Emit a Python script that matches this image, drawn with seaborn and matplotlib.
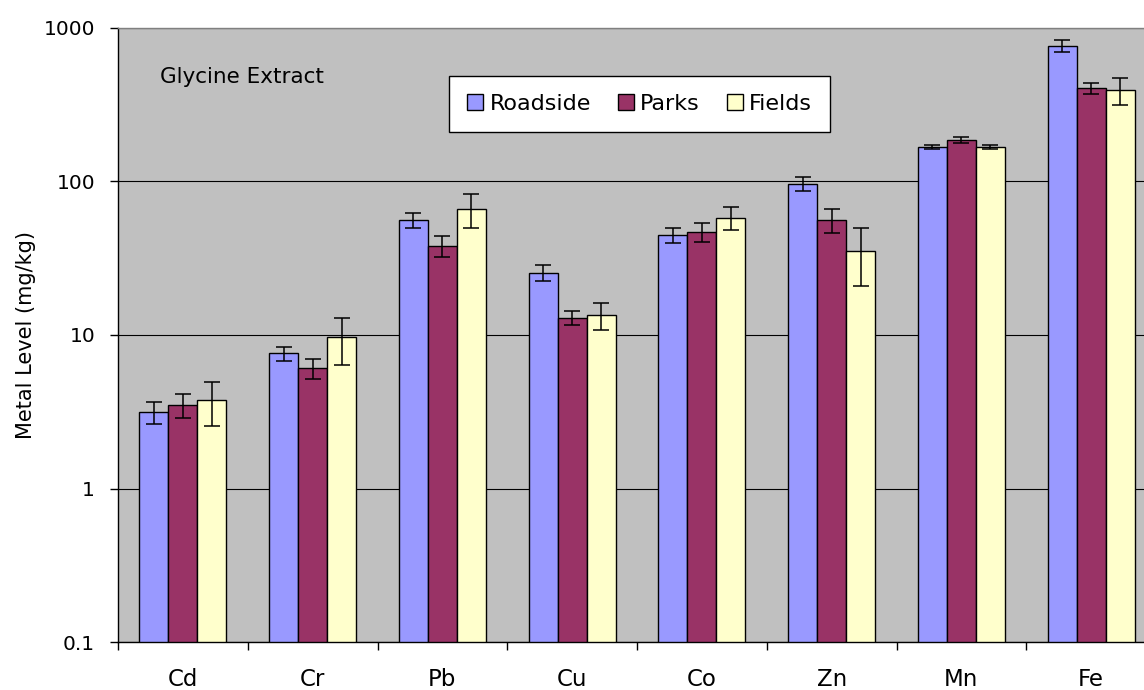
import matplotlib
matplotlib.use("Agg")
import matplotlib.pyplot as plt
from matplotlib.patches import Patch
from matplotlib.ticker import NullLocator
import numpy as np
import pandas as pd
import seaborn as sns

# Metal levels (mg/kg) with standard errors, glycine extract
metals = ["Cd", "Cr", "Pb", "Cu", "Co", "Zn", "Mn", "Fe"]
sites = ["Roadside", "Parks", "Fields"]

roadside = [3.15, 7.6, 56, 25.5, 45, 97, 168, 765]
roadside_err = [0.52, 0.8, 6, 3.0, 5, 10, 6, 65]
parks = [3.5, 6.1, 38, 13, 47, 56, 186, 405]
parks_err = [0.62, 0.9, 6, 1.4, 6.5, 10, 8, 35]
fields = [3.75, 9.7, 66, 13.4, 58, 35.5, 168, 395]
fields_err = [1.2, 3.3, 16.5, 2.7, 10, 14.5, 6, 80]

ytick_values = [0.1, 1, 10, 100, 1000]
ytick_labels = ["0.1", "1", "10", "100", "1000"]

colors = ["#9999FF", "#993366", "#FFFFCC"]

values = {"Roadside": roadside, "Parks": parks, "Fields": fields}
errors = {"Roadside": roadside_err, "Parks": parks_err, "Fields": fields_err}

df = pd.DataFrame(
    [(m, s, values[s][i]) for s in sites for i, m in enumerate(metals)],
    columns=["metal", "site", "level"],
)

fig = plt.figure(figsize=(11.44, 6.90), dpi=100)
fig.patch.set_facecolor("white")
ax = fig.add_axes([118 / 1144, 48 / 690, 1038 / 1144, 614 / 690])
ax.set_facecolor("#C0C0C0")

sns.barplot(
    data=df, x="metal", y="level", hue="site",
    order=metals, hue_order=sites, palette=colors,
    width=0.67, gap=0, errorbar=None, legend=False,
    edgecolor="black", linewidth=1.0, saturation=1.0, ax=ax,
)
ax.set_yscale("log")
ax.set_ylim(0.1, 1000)
ax.set_xlim(-0.5, len(metals) - 0.5)

# Error bars at the centres of the drawn bars
for container, site in zip(ax.containers, sites):
    xs = [p.get_x() + p.get_width() / 2 for p in container.patches]
    ax.errorbar(xs, values[site], yerr=errors[site], fmt="none",
                ecolor="black", elinewidth=1.1, capsize=6, capthick=1.1,
                zorder=5)

# Axes styling
ax.set_yticks(ytick_values)
ax.set_yticklabels(ytick_labels)
ax.yaxis.set_minor_locator(NullLocator())
ax.grid(axis="y", which="major", color="black", linewidth=0.8)
ax.set_axisbelow(True)

ax.set_xticks(np.arange(len(metals)))
ax.set_xticklabels(metals)
ax.set_xticks(np.arange(-0.5, len(metals), 1), minor=True)
ax.tick_params(axis="x", which="major", length=0, pad=19, labelsize=16.5)
ax.tick_params(axis="x", which="minor", length=6, width=1, color="black",
               direction="out")
ax.tick_params(axis="y", which="major", length=6, width=1, color="black",
               direction="out", pad=10.5, labelsize=14.5)

for side in ("left", "bottom"):
    ax.spines[side].set_color("black")
    ax.spines[side].set_linewidth(1.0)
for side in ("top", "right"):
    ax.spines[side].set_color("#808080")
    ax.spines[side].set_linewidth(1.0)

ax.set_xlabel("")
ax.set_ylabel("Metal Level (mg/kg)", fontsize=15)
ax.yaxis.set_label_coords(-0.079, 0.5)

ax.text(42 / 1038, (642 - 83) / 614, "Glycine Extract", transform=ax.transAxes,
        fontsize=15.5, ha="left", va="baseline", color="black")

handles = [Patch(facecolor=c, edgecolor="black", linewidth=1.0, label=s)
           for c, s in zip(colors, sites)]
leg = ax.legend(handles=handles, loc="center", bbox_to_anchor=(0.5025, 0.876),
                ncol=3, fontsize=16, frameon=True, fancybox=False,
                framealpha=1, edgecolor="black", handlelength=0.72,
                handleheight=0.72, handletextpad=0.3, columnspacing=1.2,
                borderpad=0.8, borderaxespad=0)
leg.get_frame().set_linewidth(1.0)
leg.get_frame().set_facecolor("white")

fig.savefig("out.png", dpi=100, facecolor="white")
